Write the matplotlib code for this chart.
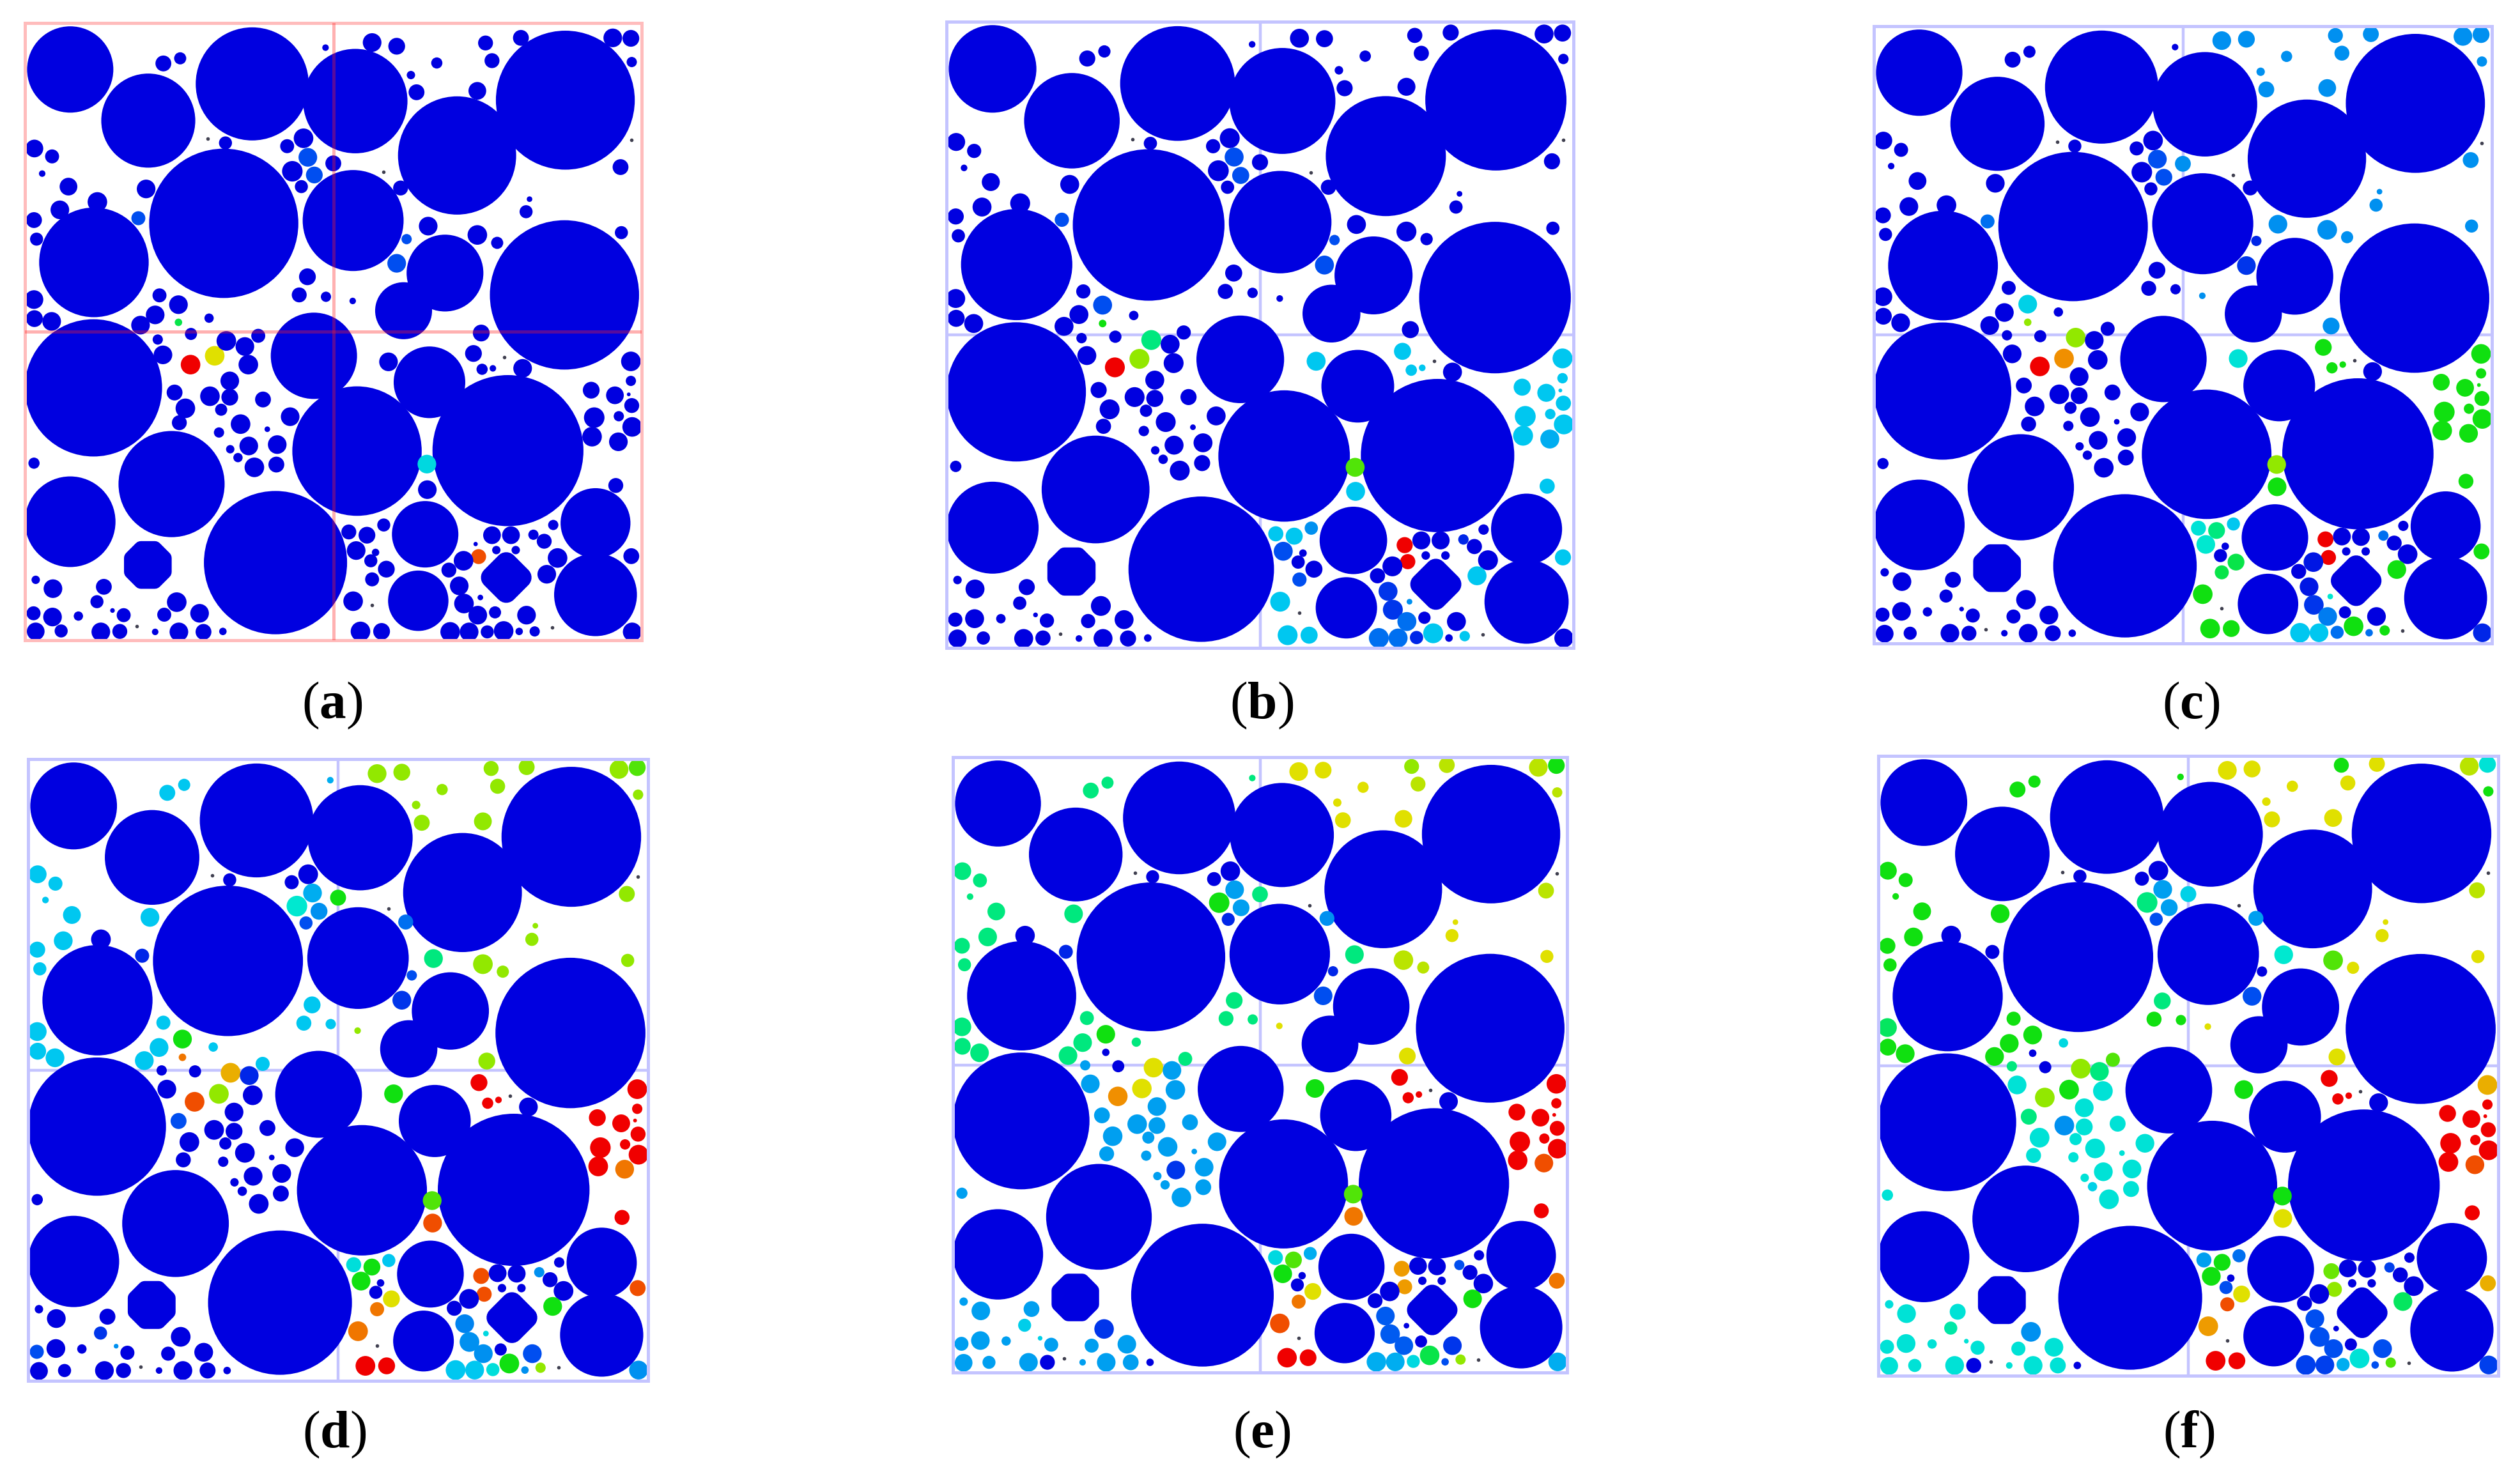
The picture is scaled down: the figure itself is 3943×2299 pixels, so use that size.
import numpy as np
import matplotlib
matplotlib.use('Agg')
import matplotlib.pyplot as plt
from matplotlib.patches import Ellipse, Polygon
from matplotlib.colors import LinearSegmentedColormap

plt.rcParams['font.family'] = ['Liberation Serif', 'DejaVu Serif']
plt.rcParams['mathtext.fontset'] = 'custom'
plt.rcParams['mathtext.rm'] = 'Liberation Serif'
plt.rcParams['mathtext.bf'] = 'Liberation Serif:bold'

W, H = 3943, 2299

labels = ['a', 'b', 'c', 'd', 'e', 'f']

# large grains, same in every panel
big_x = [170, 351, 592, 831, 1067, 1318, 526, 826, 225, 1039, 943, 1316, 224, 735, 1003, 835, 1185, 405, 170, 646, 993, 977, 1388, 1388]
big_y = [152, 262, 183, 220, 337, 218, 483, 477, 567, 590, 671, 637, 837, 768, 825, 973, 972, 1044, 1125, 1213, 1152, 1295, 1128, 1282]
big_r = [100, 109, 131, 121, 137, 161, 173, 117, 127, 89, 66, 173, 159, 100, 83, 150, 175, 123, 105, 166, 77, 70, 81, 96]

# the two odd shaped grains: octagon and rounded diamond
odd_x = [350, 1181]
odd_y = [1218, 1245]
odd_r = [42, 34]
odd_n = [8, 4]

# small grains
small_x = [386, 425, 762, 870, 927, 1133, 1215, 1428, 1470, 1148, 1020, 1472, 960, 973, 1114, 1446, 1227, 1235, 1448, 1114,
           1160, 1000, 950, 927, 936, 825, 1123, 87, 128, 105, 166, 346, 146, 86, 92, 233, 328, 530, 377, 421,
           367, 333, 492, 421, 86, 87, 127, 720, 701, 763, 711, 673, 721, 685, 736, 780, 706, 373, 450, 385,
           449, 505, 532, 575, 606, 583, 412, 540, 494, 540, 617, 437, 520, 565, 680, 423, 515, 627, 584, 650,
           541, 559, 648, 597, 86, 908, 1105, 1125, 1150, 1219, 997, 998, 1470, 1470, 1378, 1433, 1472, 1442, 1385, 1473,
           1380, 1441, 1435, 1465, 816, 858, 897, 833, 878, 867, 903, 870, 826, 843, 892, 1110, 1148, 1192, 1117, 1158,
           1203, 1082, 1048, 1072, 1083, 1121, 1115, 1155, 1228, 1175, 1211, 1247, 1051, 1095, 1137, 1473, 1244, 1269, 1300, 1290,
           1275, 1471, 90, 130, 248, 232, 85, 129, 189, 268, 294, 90, 149, 241, 285, 367, 422, 479, 524, 388,
           417, 470]
small_y = [124, 107, 97, 83, 80, 72, 69, 74, 70, 110, 117, 128, 150, 188, 185, 340, 437, 408, 482, 490,
           506, 478, 514, 567, 400, 632, 697, 298, 318, 353, 385, 390, 440, 459, 500, 437, 472, 310, 615, 650,
           668, 696, 667, 689, 634, 676, 690, 577, 616, 618, 298, 315, 338, 366, 377, 348, 402, 717, 719, 757,
           784, 767, 722, 728, 703, 770, 825, 806, 844, 847, 840, 870, 873, 893, 882, 908, 912, 903, 943, 937,
           956, 975, 980, 1002, 993, 767, 743, 787, 780, 795, 995, 1043, 757, 799, 818, 830, 853, 875, 882, 897,
           922, 928, 1031, 824, 1132, 1137, 1123, 1167, 1171, 1191, 1205, 1227, 1274, 1348, 1348, 1156, 1150, 1151, 1195, 1182,
           1182, 1205, 1225, 1258, 1297, 1279, 1322, 1313, 1322, 1343, 1357, 1352, 1357, 1357, 1356, 1357, 1148, 1164, 1188, 1127,
           1221, 1182, 1227, 1247, 1243, 1278, 1318, 1311, 1312, 1306, 1320, 1359, 1358, 1358, 1358, 1358, 1358, 1358, 1358, 1322,
           1286, 1319]
small_r = [17, 13, 7, 20, 18, 16, 17, 20, 18, 16, 12, 11, 9, 17, 19, 17, 14, 6, 14, 21,
           13, 20, 11, 20, 16, 7, 18, 19, 15, 7, 19, 20, 20, 17, 14, 21, 15, 14, 15, 20,
           20, 20, 10, 8, 20, 18, 20, 18, 16, 11, 21, 15, 20, 22, 18, 17, 14, 11, 13, 20,
           21, 21, 21, 20, 15, 21, 17, 20, 21, 18, 17, 21, 13, 21, 20, 16, 11, 6, 20, 20,
           9, 10, 17, 21, 12, 20, 18, 12, 7, 20, 20, 20, 21, 11, 18, 19, 16, 11, 22, 21,
           21, 20, 16, 4, 16, 18, 14, 20, 8, 14, 18, 15, 21, 21, 18, 17, 19, 19, 16, 9,
           9, 21, 16, 20, 21, 6, 20, 13, 20, 21, 8, 11, 21, 20, 14, 20, 11, 16, 21, 11,
           20, 17, 9, 20, 17, 14, 15, 20, 10, 5, 15, 19, 14, 20, 16, 7, 20, 17, 8, 15,
           21, 20]

# small grains sit lower in the first panels: extra y for (a) and (b)
drop_a = [15, 21, 8, 11, 22, 23, 15, 10, 15, 23, 21, 8, 14, 13, 13, 22, 21, 23, 21, 18,
          19, 11, 3, 2, 7, 18, 22, 24, 21, 23, 19, 19, 14, 17, 17, 0, 0, 0, 23, 8,
          12, 6, 20, 7, 13, 12, 4, 21, 21, 23, 2, 2, 3, 5, 2, 6, 2, 16, 2, 9,
          3, 1, 14, 20, 22, 17, 22, 16, 11, 10, 22, 11, 11, 22, 17, 4, 21, 23, 19, 22,
          13, 12, 22, 6, 6, 14, 20, 10, 15, 0, 6, 13, 23, 23, 24, 23, 22, 23, 19, 24,
          20, 25, 16, 27, 15, 17, 9, 20, 20, 18, 22, 22, 22, 13, 13, 17, 4, 3, 5, 4,
          4, 4, 4, 5, 4, 9, 4, 7, 4, 17, 4, 9, 5, 5, 6, 5, 5, 3, 15, 5,
          17, 17, 23, 22, 22, 19, 4, 19, 16, 10, 6, 2, 2, 4, 3, 4, 4, 4, 3, 3,
          12, 3]
drop_b = [6, 8, 3, 4, 8, 9, 6, 4, 6, 9, 8, 3, 5, 5, 5, 8, 8, 9, 8, 7,
          7, 4, 1, 1, 3, 7, 8, 9, 8, 9, 7, 7, 5, 6, 6, 0, 0, 0, 9, 3,
          5, 2, 8, 3, 5, 5, 2, 8, 8, 9, 1, 1, 1, 2, 1, 2, 1, 6, 1, 3,
          1, 0, 5, 8, 8, 6, 8, 6, 4, 4, 8, 4, 4, 8, 6, 2, 8, 9, 7, 8,
          5, 5, 8, 2, 2, 5, 8, 4, 6, 0, 2, 5, 9, 9, 9, 9, 8, 9, 7, 9,
          8, 9, 6, 10, 6, 6, 3, 8, 8, 7, 8, 8, 8, 5, 5, 6, 2, 1, 2, 2,
          2, 2, 2, 2, 2, 3, 2, 3, 2, 6, 2, 3, 2, 2, 2, 2, 2, 1, 6, 2,
          6, 6, 9, 8, 8, 7, 2, 7, 6, 4, 2, 1, 1, 2, 1, 2, 2, 2, 1, 1,
          5, 1]
drop_none = [0] * 162
panel_drop = [drop_a, drop_b, drop_none, drop_none, drop_none, drop_none]

# stress level of each small grain, one list per panel (0 blue ... 10 red)
val_a = [0] * 162
for i, v in {22: 1, 23: 1, 36: 1, 43: 5.5, 52: 1, 54: 1, 60: 10, 61: 8, 90: 3.5, 118: 9}.items():
    val_a[i] = v
val_b = [0, 0, 0, 0, 0, 0, 0, 0, 0, 0, 0, 0, 0, 0, 0, 0, 0, 0, 0, 0,
         0, 0, 1, 1, 0, 0, 0, 0, 0, 0, 0, 0, 0, 0, 0, 0, 1, 0, 0, 1,
         0, 0, 0, 6, 0, 0, 0, 0, 0, 0, 0, 0, 1, 0, 1, 0, 0, 0, 0, 0,
         10, 7, 5, 0, 0, 0, 0, 0, 0, 0, 0, 0, 0, 0, 0, 0, 0, 0, 0, 0,
         0, 0, 0, 0, 0, 3, 3, 3, 3, 0, 6.5, 3, 3, 3, 3, 3, 3, 3, 3, 3,
         3, 2.5, 3, 3, 3, 3, 2, 1, 0, 0, 0, 1, 3, 3, 3, 10, 0, 0, 10, 0,
         0, 0, 0, 0.7, 0.7, 2, 1.5, 0, 0, 3, 0, 3, 1.5, 1.5, 0.5, 0, 0.5, 0, 0, 0,
         3, 3, 0, 0, 0, 0, 0, 0, 0, 0, 0, 0, 0, 0, 0, 0, 0, 0, 0, 0,
         0, 0]
val_c = [0, 0, 0, 2, 2, 2, 2, 2, 2, 2, 2, 2, 2, 2, 2, 2, 2, 2, 2, 2,
         2, 2, 0.5, 0.7, 0, 2, 2, 0, 0, 0, 0, 0, 0, 0, 0, 0, 1.5, 0, 0, 3.3,
         0, 0, 0, 7, 0, 0, 0, 0, 0, 0, 0, 0, 1, 0, 1, 2, 0, 0, 0, 0,
         10, 8.5, 7, 0, 0, 0, 0, 0, 0, 0, 0, 0, 0, 0, 0, 0, 0, 0, 0, 0,
         0, 0, 0, 0, 0, 3.8, 6, 6, 6, 0, 7, 6, 6, 6, 6, 6, 6, 6, 6, 6,
         6, 6, 6, 6, 3.8, 5, 3, 4, 0, 0, 5.5, 5.5, 6, 6, 6, 10, 0, 0, 10, 0,
         0, 0.3, 0, 0.3, 0.7, 4, 1.7, 0, 0, 6, 1.5, 6, 3, 3, 1.5, 0.5, 1.5, 0, 0, 0,
         6, 6, 0, 0, 0, 0, 0, 0, 0, 0, 0, 0, 0, 0, 0, 0, 0, 0, 0, 0,
         0, 0]
val_d = [3, 3, 2.5, 7, 7, 7, 7, 7, 6.5, 7, 7, 7, 7, 7, 7, 7, 7, 7, 7, 7,
         7, 5, 1, 0.7, 1.5, 7, 7, 3, 3, 3, 3, 3, 3, 3, 3, 0, 0.5, 0, 3, 6,
         3, 3, 3, 8.7, 3, 3, 3, 3, 3, 3, 0, 0, 2.5, 4, 2, 6, 1, 0, 0, 0,
         9, 7, 8.3, 0.5, 3, 0, 1, 0, 0, 0, 0, 0, 0, 0, 0, 0, 0, 0, 0, 0,
         0, 0, 0, 0, 0, 6, 10, 10, 10, 0, 6.5, 9, 10, 10, 10, 10, 10, 10, 10, 10,
         10, 8.7, 10, 10, 3.7, 6, 3, 6, 0, 0, 8, 8.7, 8.7, 10, 10, 9, 0, 0, 9, 0,
         0, 0, 0, 1.8, 2, 3.5, 2, 0, 1, 6, 2, 7, 3, 3, 3.7, 2, 2, 0, 0, 0,
         6, 9, 0, 0, 0, 0.7, 1, 0, 0, 2, 0, 0, 0, 0, 0, 0, 0, 0, 0, 0,
         0, 0]
val_e = [5, 5, 5, 8, 8, 7, 7.5, 7.5, 6, 7.5, 8, 7.5, 8, 8, 8, 7.5, 8, 8, 8, 7.5,
         7.5, 5, 0.5, 1, 2, 8, 8, 5, 5, 5, 5, 5, 5, 5, 5, 0, 0.5, 0, 5, 6,
         5, 5, 5, 0, 5, 5, 5, 5, 5, 5, 0, 0, 2.3, 6, 2.3, 5, 0.5, 2.3, 0, 2.3,
         8.5, 8, 8, 2.3, 5, 2.3, 2.3, 2.3, 2.3, 2.3, 2.3, 2.3, 2.3, 2.3, 2.3, 2.3, 2.3, 2.3, 0.7, 2.3,
         2.3, 2.3, 2.3, 2.3, 2.3, 6, 10, 10, 10, 0, 6.5, 8.7, 10, 10, 10, 10, 10, 10, 10, 10,
         10, 9, 10, 10, 3.5, 6.5, 2.5, 6, 0, 0, 8, 8.7, 9, 10, 10, 8.4, 0, 0, 8.4, 0,
         0, 0, 0, 1.2, 1.2, 0, 1.2, 0, 0.7, 5.5, 1, 7, 2.5, 2.5, 3.5, 2.5, 1, 0, 0, 0,
         6, 8.7, 2.3, 2.3, 2.3, 3.2, 2.3, 2.3, 2.3, 3.3, 2.3, 2.3, 2.3, 2.3, 0, 2.3, 2.3, 2.3, 0, 2.3,
         0.7, 2.3]
val_f = [6, 6, 6, 8, 8, 6, 8, 7.5, 3.8, 8, 8, 6, 8, 8, 8, 7.5, 8, 8, 8, 6.5,
         8, 4, 0, 1, 2.3, 8, 8, 6, 6, 6, 6, 6, 6, 6, 6, 0, 0, 0, 6, 6,
         6, 6, 3.5, 0, 5.3, 6, 6, 5, 6, 6, 0, 0, 2.3, 5, 2.3, 3.3, 1, 5, 0, 3.8,
         7, 6, 7, 5, 6.5, 3.8, 5, 3.8, 2, 3.8, 3.8, 3.8, 3.8, 3.8, 3.8, 3.8, 3.8, 3.8, 3.8, 3.8,
         3.8, 3.3, 3.8, 3.8, 3.8, 6, 10, 10, 10, 0, 6, 8, 8.3, 10, 10, 10, 10, 10, 10, 10,
         10, 9, 10, 10, 2.3, 6, 1.5, 6, 0, 1, 8, 9, 8.4, 10, 10, 6.7, 0, 0, 7, 0,
         0, 0, 0, 1, 1, 0, 1, 0, 1, 3.8, 1, 6.5, 0.8, 0.8, 2.5, 0.8, 0.8, 0, 0, 0,
         5.3, 8.3, 3.7, 3.8, 3.8, 4.5, 3.8, 3.8, 3.8, 3.8, 3.8, 3.8, 3.8, 3.8, 0, 3.8, 3.8, 3.8, 0, 3.8,
         2, 3.8]
panel_vals = [val_a, val_b, val_c, val_d, val_e, val_f]

# tiny dark specks
dot_x = [489, 896, 1471, 870, 1177, 1288, 324]
dot_y = [301, 372, 303, 1305, 771, 1352, 1350]

# panel frames in pixels: left, right, top, bottom
boxes = [(39, 1004, 36, 1002), (1481, 2462, 34, 1014), (2932, 3899, 41, 1007),
         (44, 1014, 1188, 2161), (1491, 2452, 1185, 2148), (2939, 3909, 1183, 2153)]
frame_col = ['#ffbcbc', '#c4c4ff', '#c4c4ff', '#c4c4ff', '#c4c4ff', '#c4c4ff']
label_xy = [(520, 1104), (1974, 1104), (3428, 1104), (523, 2245), (1974, 2245), (3425, 2245)]

stress = LinearSegmentedColormap.from_list('stress', [
    (0.0, '#0000e0'), (0.1, '#0050f0'), (0.2, '#0090f0'), (0.3, '#00c8f0'), (0.4, '#00e8d0'),
    (0.5, '#00e880'), (0.6, '#10e010'), (0.7, '#90e800'), (0.8, '#e0e000'), (0.85, '#f09000'),
    (0.9, '#f05000'), (1.0, '#f00000')])

XMIN, XMAX, YMIN, YMAX = 65, 1495, 52, 1380
SQUASH = (YMAX - YMIN) / (XMAX - XMIN)
GROW = 1.08
BLUE = '#0000e0'

fig = plt.figure(figsize=(W / 100, H / 100), dpi=100, facecolor='white')

for p in range(6):
    l, r, t, b = boxes[p]
    ax = fig.add_axes([l / W, 1 - b / H, (r - l) / W, (b - t) / H])
    ax.set_xlim(XMIN, XMAX)
    ax.set_ylim(YMAX, YMIN)
    ax.set_xticks([])
    ax.set_yticks([])
    for s in ax.spines.values():
        s.set_color(frame_col[p])
        s.set_linewidth(3.6)

    # cross through the middle; only panel (a) shows it over the grains
    if p == 0:
        ax.axvline((XMIN + XMAX) / 2, color='#ff2020', alpha=0.35, lw=3.6, zorder=5)
        ax.axhline((YMIN + YMAX) / 2, color='#ff2020', alpha=0.35, lw=3.6, zorder=5)
    else:
        ax.axvline((XMIN + XMAX) / 2, color=frame_col[p], lw=3.2, zorder=0.5)
        ax.axhline((YMIN + YMAX) / 2, color=frame_col[p], lw=3.2, zorder=0.5)

    for x, y, rad in zip(big_x, big_y, big_r):
        ax.add_patch(Ellipse((x, y), 2 * rad, 2 * rad * SQUASH, color=BLUE, lw=0))

    for x, y, rad, n in zip(odd_x, odd_y, odd_r, odd_n):
        ang = np.arange(n) * 2 * np.pi / n + (np.pi / n if n == 8 else 0)
        pts = np.column_stack([x + rad * np.cos(ang), y + rad * SQUASH * np.sin(ang)])
        ax.add_patch(Polygon(pts, closed=True, fc=BLUE, ec=BLUE, lw=24 if n == 4 else 16, joinstyle='round'))

    for i in range(len(small_x)):
        rad = small_r[i] * GROW
        if p == 0 and i == 115:
            rad = 5  # still a speck in (a)
        ax.add_patch(Ellipse((small_x[i], small_y[i] + panel_drop[p][i]), 2 * rad, 2 * rad * SQUASH,
                             color=stress(panel_vals[p][i] / 10), lw=0))

    ax.scatter(dot_x, dot_y, s=16, color='#404050', lw=0)

    fig.text(label_xy[p][0] / W, 1 - label_xy[p][1] / H, '($\\mathbf{' + labels[p] + '}$)',
             fontsize=60, ha='center', va='center', color='black')

fig.savefig('out.png', dpi=100)
